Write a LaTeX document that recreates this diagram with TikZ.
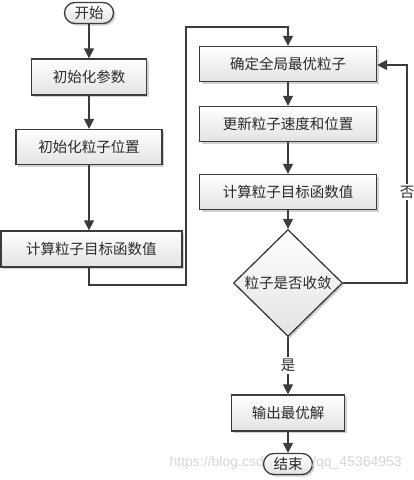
\documentclass[tikz,border=0pt]{standalone}
\usepackage{fontspec}
\setmainfont{Liberation Sans}
\newfontfamily\cjk{Noto Sans CJK SC}
\usetikzlibrary{arrows.meta,shapes.geometric,shadows}
\definecolor{ln}{HTML}{3C3C3C}
\definecolor{tx}{HTML}{2A2A2A}
\tikzset{
  box/.style={draw=ln, line width=1.3pt, rectangle, inner sep=0pt,
    top color=white, bottom color=gray!22, text=tx,
    font=\cjk\fontsize{14.5}{16}\selectfont,
    drop shadow={shadow xshift=2pt, shadow yshift=-2pt, opacity=0.35, fill=gray}},
  term/.style={box, rounded corners=10.5pt, minimum width=49pt, minimum height=21pt},
  dia/.style={box, diamond, minimum width=109pt, minimum height=107pt},
  arr/.style={draw=ln, line width=1.3pt, -{Triangle[length=10pt,width=10pt]}},
  lbl/.style={fill=white, inner sep=2pt, text=tx, font=\cjk\fontsize{14.5}{16}\selectfont},
  wmark/.style={text=gray!32, font=\fontsize{14}{16}\selectfont, inner sep=0pt}
}
\begin{document}
\begin{tikzpicture}[x=1pt,y=-1pt]
\useasboundingbox[fill=white] (0,0) rectangle (414,480);
% left column
\node[term] (start) at (89,13) {开始};
\node[box, minimum width=115pt, minimum height=36pt] (b1) at (89,77) {初始化参数};
\node[box, minimum width=146pt, minimum height=35pt] (b2) at (89,147) {初始化粒子位置};
\node[box, minimum width=181pt, minimum height=36pt] (b3) at (91.5,249) {计算粒子目标函数值};
% right column
\node[box, minimum width=177pt, minimum height=35pt] (b4) at (288,64) {确定全局最优粒子};
\node[box, minimum width=177pt, minimum height=35pt] (b5) at (288,124) {更新粒子速度和位置};
\node[box, minimum width=177pt, minimum height=35pt] (b6) at (288,192) {计算粒子目标函数值};
\node[dia] (d) at (288,283) {粒子是否收敛};
\node[box, minimum width=113pt, minimum height=36pt] (b7) at (288,413) {输出最优解};
\node[term] (end) at (288,464) {结束};
% watermark pieces around the end node
\node[wmark, anchor=east] (wm1) at (264,463) {https://blog.csd};
\node[wmark, anchor=west] (wm2) at (312,463) {/qq\_45364953};
% helper coordinates
\coordinate (c0) at (89,285);
\coordinate (c1) at (186,285);
\coordinate (c2) at (186,27);
\coordinate (c3) at (407,283);
\coordinate (c4) at (407,65);
% connectors
\draw[arr] (start) -- (b1);
\draw[arr] (b1) -- (b2);
\draw[arr] (b2) -- (b2 |- b3.north);
\draw[arr] (b2 |- b3.south) -- (c0) -- (c1) -- (c2) -| (b4.north);
\draw[arr] (b4) -- (b5);
\draw[arr] (b5) -- (b6);
\draw[arr] (b6) -- (d);
\draw[arr] (d.east) -- (c3) -- node[lbl, pos=0.417] (no) {否} (c4) -- (b4.east |- c4);
\draw[arr] (d.south) -- node[lbl, pos=0.5] (yes) {是} (b7.north);
\draw[arr] (b7) -- (end);
\end{tikzpicture}
\end{document}
